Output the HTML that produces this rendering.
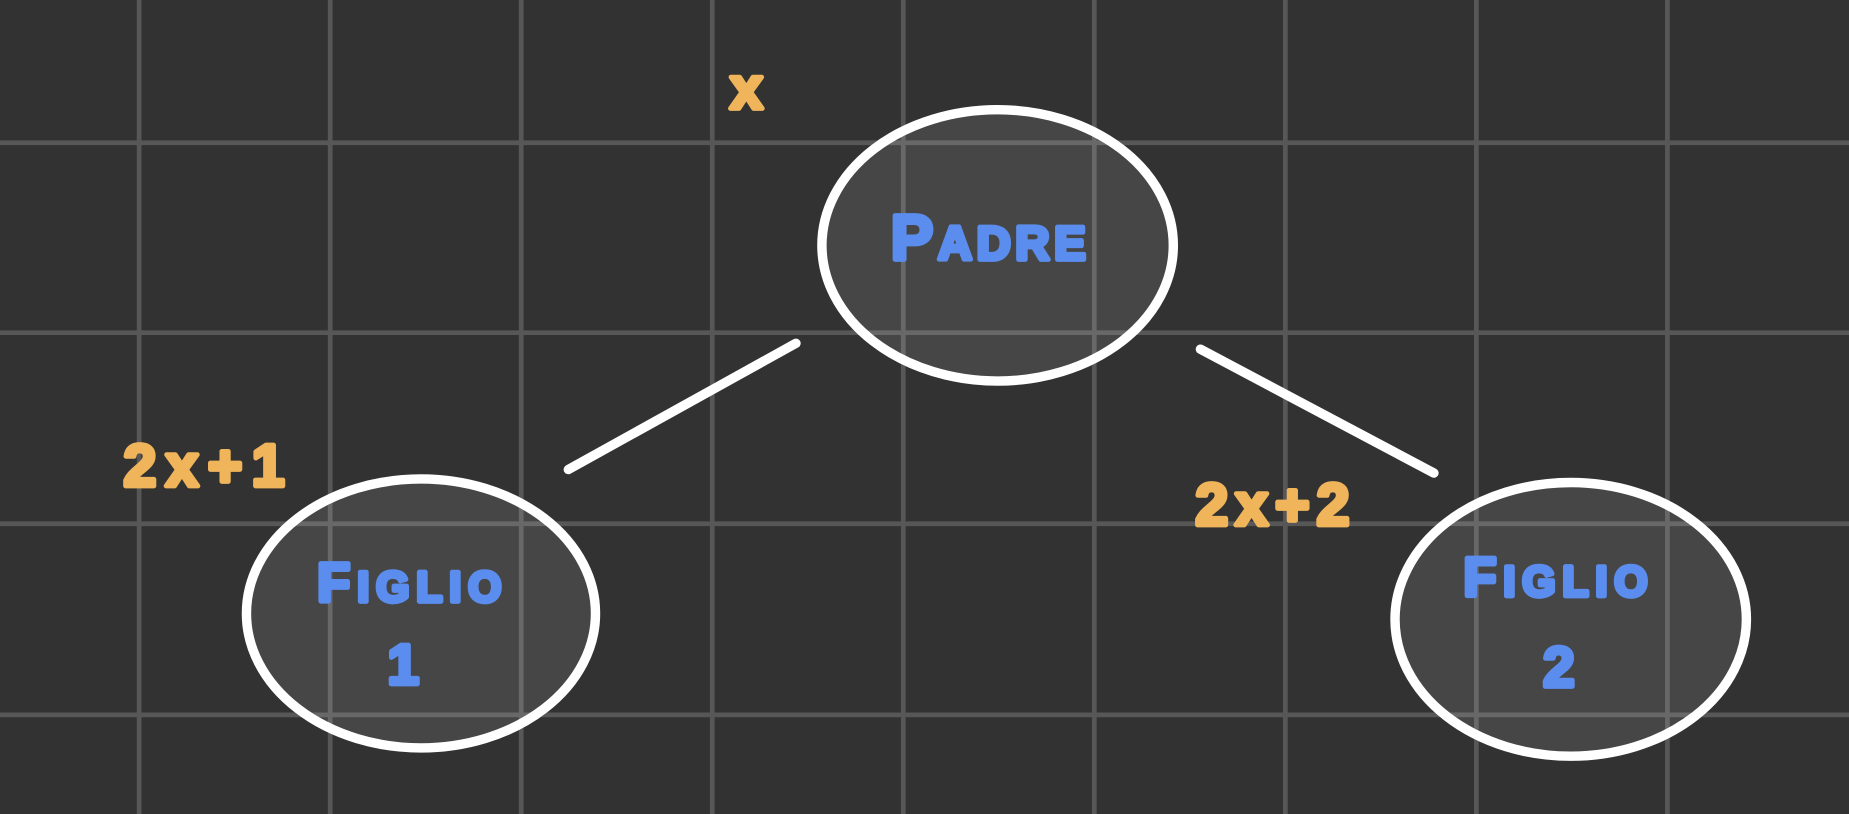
<!DOCTYPE html>
<html><head><meta charset="utf-8"><style>
html,body{margin:0;padding:0;background:#323232;}
svg{display:block;}
text{font-family:"Liberation Sans",sans-serif;font-weight:bold;stroke-linejoin:round;}
</style></head><body>
<svg width="1849" height="814" viewBox="0 0 1568 690" preserveAspectRatio="none" xmlns="http://www.w3.org/2000/svg">
<rect x="0" y="0" width="1568" height="690" fill="#323232"/>
<g id="grid" stroke="#575757" stroke-width="4"></g>
<g stroke="#ffffff" stroke-width="8" stroke-linecap="round">
<line x1="675" y1="291" x2="482" y2="398"/>
<line x1="1018" y1="296" x2="1216" y2="401"/>
</g>
<ellipse cx="846" cy="208" rx="149" ry="115" fill="rgba(255,255,255,0.1)" stroke="#fff" stroke-width="8"/>
<ellipse cx="357" cy="520" rx="148" ry="114" fill="rgba(255,255,255,0.1)" stroke="#fff" stroke-width="8"/>
<ellipse cx="1332" cy="525" rx="149" ry="116" fill="rgba(255,255,255,0.1)" stroke="#fff" stroke-width="8"/>
<g fill="#5b8def" stroke="#5b8def" stroke-width="4" text-anchor="middle">
<text x="840" y="220" font-size="54" letter-spacing="4">P<tspan font-size="40">ADRE</tspan></text>
<text x="350" y="510" font-size="46" letter-spacing="6">F<tspan font-size="36">IGLIO</tspan></text>
<text x="342" y="580" font-size="48">1</text>
<text x="1322" y="505" font-size="46" letter-spacing="6">F<tspan font-size="36">IGLIO</tspan></text>
<text x="1322" y="582" font-size="48">2</text>
</g>
<g fill="#f0b55a" stroke="#f0b55a" stroke-width="4" text-anchor="middle">
<text x="633" y="92" font-size="50">x</text>
<text x="177" y="412" font-size="50" letter-spacing="8">2x+1</text>
<text x="1082" y="445" font-size="50" letter-spacing="6">2x+2</text>
</g>
</svg>
<script>
const gridXs=[118,280,442,604,766,928,1090,1252,1414];
const gridYs=[121,282,444,606];
const g=document.getElementById('grid');
const NS='http://www.w3.org/2000/svg';
gridXs.forEach(x=>{const l=document.createElementNS(NS,'line');


l.setAttribute('x1',x);l.setAttribute('x2',x);l.setAttribute('y1',0);l.setAttribute('y2',690);g.appendChild(l);});
gridYs.forEach(y=>{const l=document.createElementNS(NS,'line');


l.setAttribute('y1',y);l.setAttribute('y2',y);l.setAttribute('x1',0);l.setAttribute('x2',1568);g.appendChild(l);});
</script>
</body></html>
